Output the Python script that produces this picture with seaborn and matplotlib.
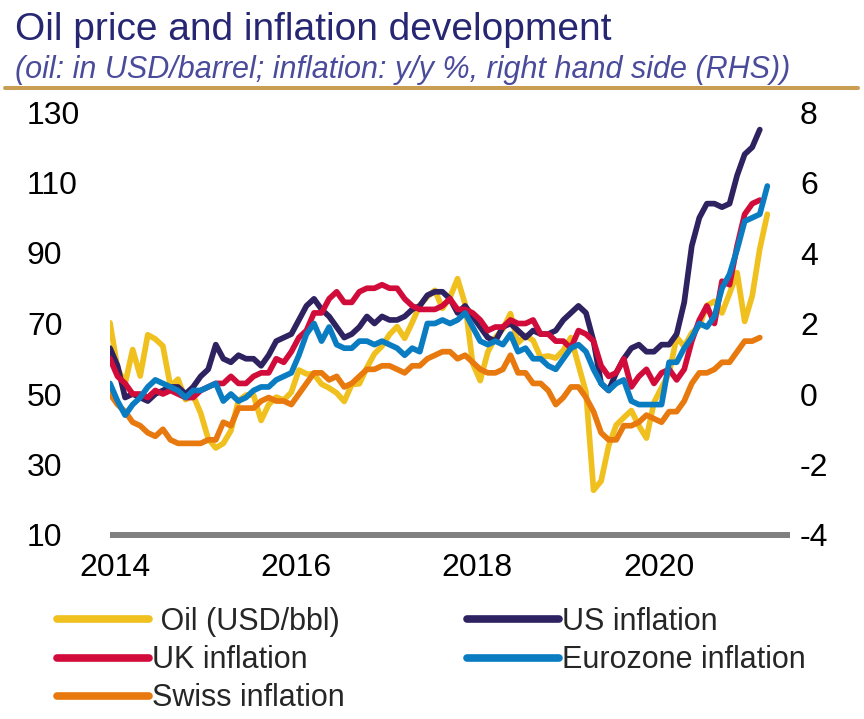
import matplotlib
matplotlib.use("Agg")
import matplotlib.pyplot as plt
import seaborn as sns
import numpy as np
import pandas as pd
from matplotlib.lines import Line2D

# DATA (monthly, first point at the left edge of the chart)

oil = [70.2, 57.3,
       53.0, 62.6, 55.1, 66.8, 65.6, 63.6, 52.2, 54.2, 48.4, 49.6, 44.6, 37.3,
       34.7, 36.0, 39.6, 48.1, 49.7, 49.7, 42.5, 47.0, 49.1, 48.3, 50.5, 56.8,
       55.7, 55.6, 52.8, 51.7, 50.3, 47.9, 52.7, 52.9, 57.5, 61.4, 63.6, 66.9,
       69.1, 65.8, 70.3, 75.2, 77.6, 79.4, 74.3, 77.4, 82.7, 75.5, 58.7, 53.8,
       61.9, 66.0, 68.4, 72.8, 64.5, 66.6, 65.2, 60.4, 60.8, 60.2, 62.4, 66.0,
       58.2, 50.5, 22.7, 25.3, 35.3, 41.2, 43.3, 45.3, 41.0, 37.5, 47.6, 51.8,
       55.9, 66.1, 63.5, 67.3, 69.3, 75.1, 76.3, 73.0, 78.5, 84.4, 70.6, 77.8,
       91.2, 101.0]

us_infl = [1.3, 0.8,
           -0.1, 0.0, -0.1, -0.2, 0.0, 0.1, 0.2, 0.2, 0.0, 0.2, 0.5, 0.7,
           1.4, 1.0, 0.9, 1.1, 1.0, 1.0, 0.8, 1.1, 1.5, 1.6, 1.7, 2.1,
           2.5, 2.7, 2.4, 2.2, 1.9, 1.6, 1.7, 1.9, 2.2, 2.0, 2.2, 2.1,
           2.1, 2.2, 2.4, 2.5, 2.8, 2.9, 2.9, 2.7, 2.3, 2.5, 2.2, 1.9,
           1.6, 1.5, 1.9, 2.0, 1.8, 1.6, 1.8, 1.7, 1.7, 1.8, 2.1, 2.3,
           2.5, 2.3, 1.5, 0.3, 0.1, 0.6, 1.0, 1.3, 1.4, 1.2, 1.2, 1.4,
           1.4, 1.7, 2.6, 4.2, 5.0, 5.4, 5.4, 5.3, 5.4, 6.2, 6.8, 7.0,
           7.5, np.nan]

uk_infl = [1.0, 0.5,
           0.3, 0.0, 0.0, -0.1, 0.1, 0.0, 0.1, 0.0, -0.1, -0.1, 0.1, 0.2,
           0.3, 0.3, 0.5, 0.3, 0.3, 0.5, 0.6, 0.6, 1.0, 0.9, 1.2, 1.6,
           1.8, 2.3, 2.3, 2.7, 2.9, 2.6, 2.6, 2.9, 3.0, 3.0, 3.1, 3.0,
           3.0, 2.7, 2.5, 2.4, 2.4, 2.4, 2.5, 2.7, 2.4, 2.4, 2.3, 2.1,
           1.8, 1.9, 1.9, 2.1, 2.0, 2.0, 2.1, 1.7, 1.7, 1.5, 1.5, 1.3,
           1.8, 1.7, 1.5, 0.8, 0.5, 0.6, 1.0, 0.2, 0.5, 0.7, 0.3, 0.6,
           0.7, 0.4, 0.7, 1.5, 2.1, 2.5, 2.0, 3.2, 3.1, 4.2, 5.1, 5.4,
           5.5, np.nan]

ez_infl = [0.3, -0.2,
           -0.6, -0.3, -0.1, 0.2, 0.4, 0.3, 0.2, 0.1, -0.1, 0.1, 0.1, 0.2,
           0.3, -0.2, 0.0, -0.2, -0.1, 0.1, 0.2, 0.2, 0.4, 0.5, 0.6, 1.1,
           1.7, 2.0, 1.5, 1.9, 1.4, 1.3, 1.3, 1.5, 1.5, 1.4, 1.5, 1.4,
           1.3, 1.1, 1.3, 1.2, 2.0, 2.0, 2.1, 2.0, 2.1, 2.3, 1.9, 1.5,
           1.4, 1.5, 1.4, 1.7, 1.2, 1.3, 1.0, 1.0, 0.8, 0.7, 1.0, 1.3,
           1.4, 1.2, 0.7, 0.3, 0.1, 0.3, 0.4, -0.2, -0.3, -0.3, -0.3, -0.3,
           0.9, 0.9, 1.3, 1.6, 2.0, 1.9, 2.2, 3.0, 3.4, 4.1, 4.9, 5.0,
           5.1, 5.9]

swiss_infl = [0.0, -0.3,
              -0.5, -0.8, -0.9, -1.1, -1.2, -1.0, -1.3, -1.4, -1.4, -1.4, -1.4, -1.3,
              -1.3, -0.8, -0.9, -0.4, -0.4, -0.4, -0.2, -0.1, -0.2, -0.2, -0.3, 0.0,
              0.3, 0.6, 0.6, 0.4, 0.5, 0.2, 0.3, 0.5, 0.7, 0.7, 0.8, 0.8,
              0.7, 0.6, 0.8, 0.8, 1.0, 1.1, 1.2, 1.2, 1.0, 1.1, 0.9, 0.7,
              0.6, 0.6, 0.7, 1.1, 0.6, 0.6, 0.3, 0.3, 0.1, -0.3, -0.1, 0.2,
              0.2, -0.1, -0.5, -1.1, -1.3, -1.3, -0.9, -0.9, -0.8, -0.6, -0.7, -0.8,
              -0.5, -0.5, -0.2, 0.3, 0.6, 0.6, 0.7, 0.9, 0.9, 1.2, 1.5, 1.5,
              1.6, np.nan]

x_labels = ["2014", "2016", "2018", "2020"]
x_label_pos = [0.6, 24.6, 48.6, 72.6]
oil_ticks = [10, 30, 50, 70, 90, 110, 130]
infl_ticks = [-4, -2, 0, 2, 4, 6, 8]

names = {"oil": " Oil (USD/bbl)", "us": "US inflation", "uk": "UK inflation",
         "ez": "Eurozone inflation", "ch": "Swiss inflation"}
colors = {"oil": "#F0C01E", "us": "#2F2260", "uk": "#D20C3A",
          "ez": "#0A7CC2", "ch": "#E8790E"}

month = np.arange(len(oil))

# STYLE

sns.set_style("white")
plt.rcParams["font.family"] = ["Liberation Sans", "DejaVu Sans"]

W, H = 864, 719
fig = plt.figure(figsize=(W / 100, H / 100), dpi=100)
ax1 = fig.add_axes([110 / W, 1 - 535 / H, 680 / W, 423 / H])
ax2 = ax1.twinx()

LW = 4.1

# OIL (LHS)
sns.lineplot(x=month, y=oil, ax=ax1, color=colors["oil"], lw=LW,
             solid_joinstyle="round", legend=False)

# INFLATION (RHS)
infl = pd.DataFrame({"month": month,
                     names["ch"]: swiss_infl,
                     names["us"]: us_infl,
                     names["uk"]: uk_infl,
                     names["ez"]: ez_infl})
infl = infl.melt("month", var_name="series", value_name="yoy").dropna()
order = [names["ch"], names["us"], names["uk"], names["ez"]]
pal = {names["ch"]: colors["ch"], names["us"]: colors["us"],
       names["uk"]: colors["uk"], names["ez"]: colors["ez"]}
sns.lineplot(data=infl, x="month", y="yoy", hue="series", hue_order=order,
             palette=pal, lw=LW, errorbar=None, ax=ax2, legend=False,
             solid_joinstyle="round")

# AXES
ax1.set_xlim(0, 90)
ax1.set_ylim(10, 130)
ax2.set_ylim(-4, 8)
ax1.set_xlabel("")
ax1.set_ylabel("")
ax2.set_xlabel("")
ax2.set_ylabel("")

for s in ["top", "left", "right"]:
    ax1.spines[s].set_visible(False)
for s in ["top", "left", "right", "bottom"]:
    ax2.spines[s].set_visible(False)
ax1.spines["bottom"].set_color("#808080")
ax1.spines["bottom"].set_linewidth(4.3)
ax1.spines["bottom"].set_capstyle("butt")

ax1.set_xticks(x_label_pos, x_labels)
ax1.set_yticks(oil_ticks, [str(v) for v in oil_ticks], ha="left")
ax2.set_yticks(infl_ticks, [str(v) for v in infl_ticks], ha="left")
ax1.tick_params(axis="x", length=0, pad=13, labelsize=23, labelcolor="black")
ax1.tick_params(axis="y", length=0, pad=59.8, labelsize=23, labelcolor="black")
ax2.tick_params(axis="y", length=0, pad=7.2, labelsize=23, labelcolor="black")
ax1.grid(False)
ax2.grid(False)

# TITLE
fig.text(15 / W, 1 - 40 / H, "Oil price and inflation development",
         fontsize=28, color="#262673", va="baseline", ha="left")
fig.text(15 / W, 1 - 78 / H,
         "(oil: in USD/barrel; inflation: y/y %, right hand side (RHS))",
         fontsize=22, style="italic", color="#4B4B9B", va="baseline", ha="left")
fig.add_artist(Line2D([5 / W, 858 / W], [1 - 88 / H, 1 - 88 / H],
                      color="#C99E52", lw=2.9, transform=fig.transFigure))

# LEGEND
keys = ["oil", "uk", "ch", "us", "ez"]
handles = [Line2D([0], [0], color=colors[k], lw=5.5, solid_capstyle="round") for k in keys]
labels = [names[k] for k in keys]
fig.legend(handles, labels, ncol=2, loc="upper left",
           bbox_to_anchor=(57 / W, 1 - 607 / H), bbox_transform=fig.transFigure,
           frameon=False, fontsize=22, handlelength=3.0, handletextpad=0.11,
           columnspacing=4.0, labelspacing=0.27, borderpad=0, borderaxespad=0)

plt.savefig("out.png", dpi=100)
